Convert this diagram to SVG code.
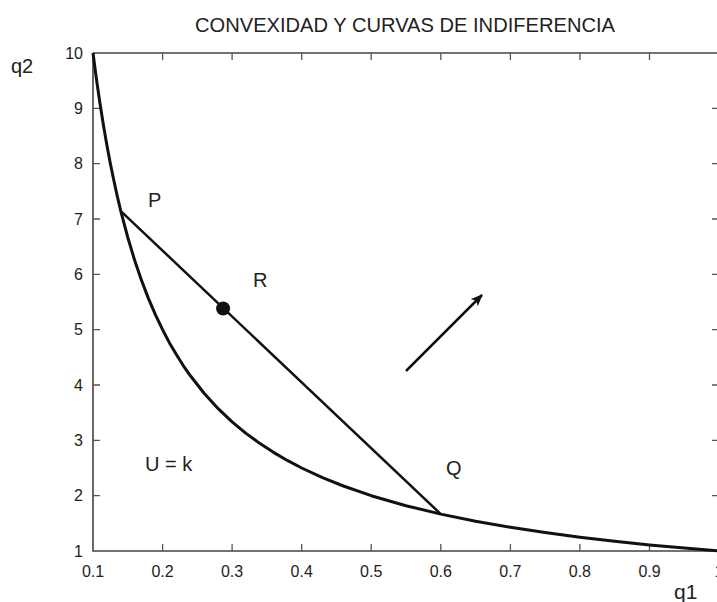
<svg xmlns="http://www.w3.org/2000/svg" width="717" height="602" viewBox="0 0 717 602">
<style>
text{font-family:"Liberation Sans",Arial,sans-serif;fill:#222}
.tl{font-size:16px}
.ax{stroke:#444;stroke-width:1.6;fill:none}
.tk{stroke:#555;stroke-width:1.3}
.cv{stroke:#111;stroke-width:3;fill:none;stroke-linejoin:round}
.lb{font-size:20px}
</style>
<defs>
<marker id="ah" viewBox="0 0 12 10" refX="11" refY="5" markerWidth="12" markerHeight="10" markerUnits="userSpaceOnUse" orient="auto">
<path d="M0,0 L12,5 L0,10 L3,5 Z" fill="#111"/>
</marker>
</defs>
<rect width="717" height="602" fill="#fff"/>
<text x="405" y="32" font-size="21" text-anchor="middle" textLength="420" lengthAdjust="spacingAndGlyphs">CONVEXIDAD Y CURVAS DE INDIFERENCIA</text>
<g id="axes">
<path class="ax" d="M93,53 H719 M93,53 V551 H719"/>
<g class="tk">
<path d="M93,108.3h7M93,163.7h7M93,219h7M93,274.3h7M93,329.7h7M93,385h7M93,440.3h7M93,495.7h7"/>
<path d="M719,108.3h-7M719,163.7h-7M719,219h-7M719,274.3h-7M719,329.7h-7M719,385h-7M719,440.3h-7M719,495.7h-7"/>
<path d="M162.6,551v-7M232.1,551v-7M301.7,551v-7M371.2,551v-7M440.8,551v-7M510.4,551v-7M579.9,551v-7M649.5,551v-7"/>
<path d="M162.6,53v7M232.1,53v7M301.7,53v7M371.2,53v7M440.8,53v7M510.4,53v7M579.9,53v7M649.5,53v7"/>
</g>
<g class="tl" text-anchor="end">
<text x="83" y="59">10</text>
<text x="83" y="114">9</text>
<text x="83" y="169">8</text>
<text x="83" y="225">7</text>
<text x="83" y="280">6</text>
<text x="83" y="335">5</text>
<text x="83" y="391">4</text>
<text x="83" y="446">3</text>
<text x="83" y="501">2</text>
<text x="83" y="557">1</text>
</g>
<g class="tl" text-anchor="middle">
<text x="93" y="577">0.1</text>
<text x="162.6" y="577">0.2</text>
<text x="232.1" y="577">0.3</text>
<text x="301.7" y="577">0.4</text>
<text x="371.2" y="577">0.5</text>
<text x="440.8" y="577">0.6</text>
<text x="510.4" y="577">0.7</text>
<text x="579.9" y="577">0.8</text>
<text x="649.5" y="577">0.9</text>
<text x="719" y="577">1</text>
</g>
<text x="11" y="73" font-size="20">q2</text>
<text x="674" y="599" font-size="21">q1</text>
</g>
<g id="curve">
<path class="cv" d="M93,53 L96.48,79.4 L99.96,103.3 L103.43,125.2 L106.9,145.3 L110.39,163.7 L113.9,180.7 L117.35,196.5 L120.8,211.1 L127.8,237.5 L134.7,260.5 L141.7,280.9 L148.6,298.9 L155.6,315.1 L162.6,329.7 L169.5,342.9 L176.5,354.8 L183.4,365.8 L190.4,375.8 L204.3,393.5 L218.2,408.7 L232.1,421.9 L246,433.4 L260,443.6 L273.9,452.6 L287.8,460.7 L301.7,468 L322.5,477.7 L343.4,486 L371.2,495.7 L406,505.7 L440.8,514.1 L475.6,521.2 L510.4,527.3 L545.1,532.6 L579.9,537.2 L614.7,541.2 L649.5,544.9 L684.3,548.1 L719,551"/>
<text class="lb" x="145" y="471">U = k</text>
</g>
<g id="connectors">
<line x1="120.8" y1="211.1" x2="440.8" y2="514.1" stroke="#111" stroke-width="2.5"/>
<line x1="406" y1="371" x2="482" y2="295" stroke="#111" stroke-width="2.5" marker-end="url(#ah)"/>
</g>
<g id="P"><text class="lb" x="148" y="207">P</text></g>
<g id="R">
<circle cx="223.1" cy="308.5" r="7" fill="#111"/>
<text class="lb" x="253" y="287">R</text>
</g>
<g id="Q"><text class="lb" x="446" y="475">Q</text></g>
</svg>
